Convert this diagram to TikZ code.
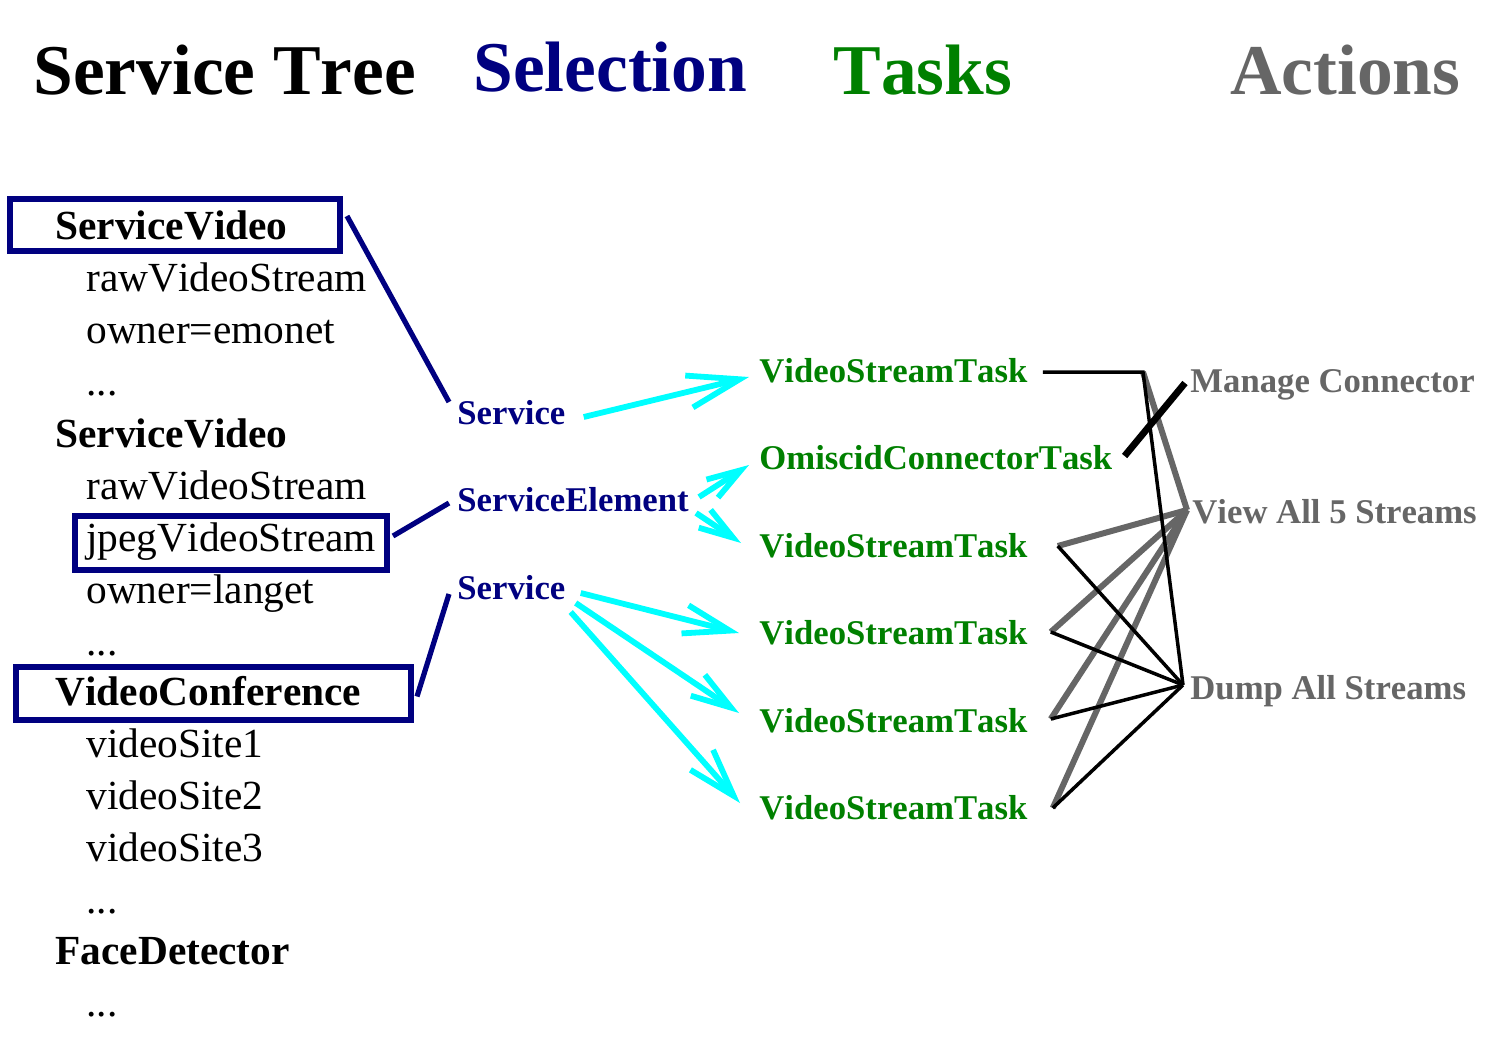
\documentclass[tikz,border=0pt]{standalone}
\usepackage{fontspec}
\setmainfont{Liberation Serif}[Kerning=Off]
\usetikzlibrary{arrows.meta,calc,fit}
\definecolor{navy}{RGB}{0,0,128}
\definecolor{tgreen}{RGB}{0,128,0}
\definecolor{agray}{RGB}{102,102,102}
\definecolor{cyn}{RGB}{0,255,255}
\begin{document}
\begin{tikzpicture}[x=0.5pt,y=-0.5pt,
 title/.style={anchor=base west,inner sep=0,font=\fontsize{35.7}{40}\selectfont\bfseries},
 tree/.style={anchor=base west,inner sep=0,font=\fontsize{20.7}{24}\selectfont},
 treeh/.style={anchor=base west,inner sep=0,font=\fontsize{20.7}{24}\selectfont\bfseries},
 sel/.style={anchor=base west,inner sep=0,text=navy,font=\fontsize{17.35}{20}\selectfont\bfseries},
 task/.style={sel,text=tgreen},
 act/.style={sel,text=agray},
 selbox/.style={draw=navy,line width=3pt,inner sep=0,rectangle},
 selline/.style={draw=navy,line width=2.6pt},
 cyarrow/.style={draw=cyn,line width=2.9pt,-{Straight Barb[length=#1,width'=0pt 0.63]}},
 dumpline/.style={draw=black,line width=1.75pt},
 viewline/.style={draw=agray,line width=3pt},
 mgline/.style={draw=black,line width=3.4pt}]
\useasboundingbox (0,0) rectangle (1500,1050);

% titles
\node[title] (tTree) at (33,94) {Service Tree};
\node[title,text=navy] (tSel) at (473,91) {Selection};
\node[title,text=tgreen] (tTasks) at (833,94) {Tasks};
\node[title,text=agray] (tAct) at (1230,94) {Actions};

% service tree
\node[treeh] (sv1) at (55,239) {ServiceVideo};
\node[tree] (raw1) at (86,291) {rawVideoStream};
\node[tree] (own1) at (86,343) {owner=emonet};
\node[tree] (dot1) at (86,395) {...};
\node[treeh] (sv2) at (55,447) {ServiceVideo};
\node[tree] (raw2) at (86,499) {rawVideoStream};
\node[tree] (jpeg) at (86,551) {jpegVideoStream};
\node[tree] (own2) at (86,603) {owner=langet};
\node[tree] (dot2) at (86,655) {...};
\node[treeh] (vc) at (55,705) {VideoConference};
\node[tree] (vs1) at (86,757) {videoSite1};
\node[tree] (vs2) at (86,809) {videoSite2};
\node[tree] (vs3) at (86,861) {videoSite3};
\node[tree] (dot3) at (86,913) {...};
\node[treeh] (fd) at (55,964) {FaceDetector};
\node[tree] (dot4) at (86,1016) {...};

% selection boxes
\node[selbox,fit={(10,199) (340,251)}] (box1) {};
\node[selbox,fit={(75,516) (387,570)}] (box2) {};
\node[selbox,fit={(16,667) (411,720)}] (box3) {};

% selection labels
\node[sel] (svc1) at (457,424) {Service};
\node[sel] (se) at (457,511) {ServiceElement};
\node[sel] (svc2) at (457,599) {Service};

% tasks
\node[task] (vst1) at (759,382) {VideoStreamTask};
\node[task] (oct) at (759,469) {OmiscidConnectorTask};
\node[task] (vst2) at (759,557) {VideoStreamTask};
\node[task] (vst3) at (759,644) {VideoStreamTask};
\node[task] (vst4) at (759,732) {VideoStreamTask};
\node[task] (vst5) at (759,819) {VideoStreamTask};

% actions
\node[act] (mc) at (1190,392) {Manage Connector};
\node[act] (view) at (1192,523) {View All 5 Streams};
\node[act] (dump) at (1190,699) {Dump All Streams};

% navy selection lines
\draw[selline] ($(box1.north east)+(4,20)$) -- ($(svc1.base west)+(-8,-22)$);
\draw[selline] ($(box2.east)+(3,-7)$) -- ($(se.base west)+(-8,-8)$);
\draw[selline] ($(box3.east)+(3,3)$) -- ($(svc2.base west)+(-8,-5)$);

% cyan arrows
\draw[cyarrow=26pt] ($(svc1.base east)+(18,-7)$) -- ($(vst1.base west)+(-10,-5)$);
\draw[cyarrow=17pt] ($(se.base east)+(10,-14)$) -- ($(oct.base west)+(-10,-4)$);
\draw[cyarrow=17pt] ($(se.base east)+(7,2)$) -- ($(vst2.base west)+(-18,-14)$);
\draw[cyarrow=23pt] ($(svc2.base east)+(15,-6)$) -- ($(vst3.base west)+(-20,-11)$);
\draw[cyarrow=20pt] ($(svc2.base east)+(10,4)$) -- ($(vst4.base west)+(-20,-19)$);
\draw[cyarrow=24pt] ($(svc2.base east)+(5,13)$) -- ($(vst5.base west)+(-19,-16)$);

% action connectors
\coordinate (c1) at (1143,372);
\coordinate (viewin) at ($(view.base west)+(-5,-13)$);
\coordinate (dumpin) at ($(dump.base west)+(-7,-14)$);
\coordinate (t1) at ($(vst1.base east)+(15,-10)$);
\coordinate (t2) at ($(vst2.base east)+(30,-11)$);
\coordinate (t3) at ($(vst3.base east)+(23,-12)$);
\coordinate (t4) at ($(vst4.base east)+(23,-13)$);
\coordinate (t5) at ($(vst5.base east)+(25,-11)$);

\draw[viewline] (c1) -- (viewin);
\draw[viewline] (t2) -- (viewin);
\draw[viewline] (t3) -- (viewin);
\draw[viewline] (t4) -- (viewin);
\draw[viewline] (t5) -- (viewin);

\draw[dumpline] (t1) -- (c1) -- (dumpin);
\draw[dumpline] (t2) -- (dumpin);
\draw[dumpline] (t3) -- (dumpin);
\draw[dumpline] (t4) -- (dumpin);
\draw[dumpline] (t5) -- (dumpin);

\draw[mgline] ($(oct.base east)+(12,-13)$) -- ($(mc.base west)+(-5,-9)$);
\end{tikzpicture}
\end{document}
